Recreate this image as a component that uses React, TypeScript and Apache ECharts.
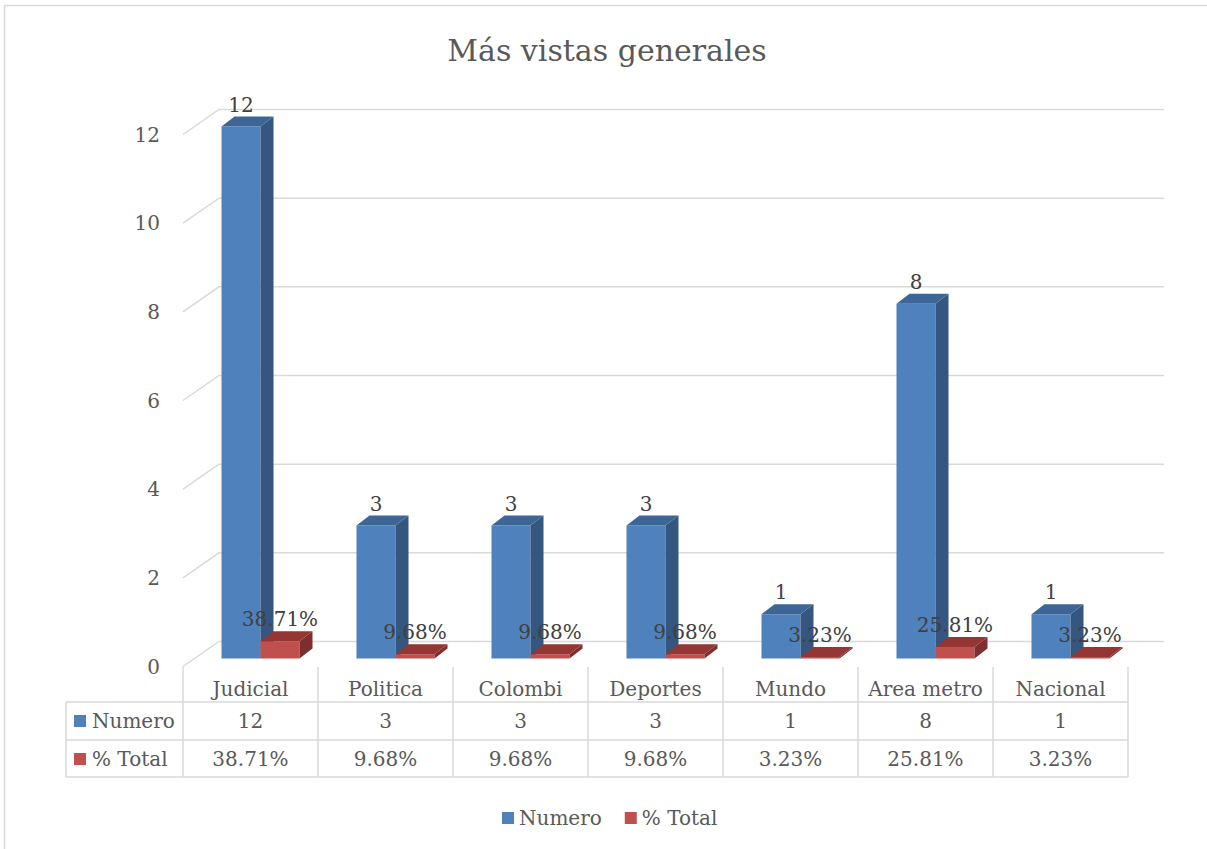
import React, { useEffect, useRef } from "react";
import * as echarts from "echarts";

const categories = ["Judicial", "Politica", "Colombi", "Deportes", "Mundo", "Area metro", "Nacional"];
const numero = [12, 3, 3, 3, 1, 8, 1];
const pctTotal = [38.71, 9.68, 9.68, 9.68, 3.23, 25.81, 3.23];
const yTicks = [0, 2, 4, 6, 8, 10, 12];
const seriesNames = ["Numero", "% Total"];
const titleText = "Más vistas generales";

const FONT = "DejaVu Serif";
const TEXT = "#595959";
const LINE = "#d9d9d9";
const BLUE = { front: "#4f81bd", side: "#34567f", top: "#3d6697" };
const RED = { front: "#c0504d", side: "#7e2e2c", top: "#943634" };

// 3D geometry (pixels)
const WALL_DX = 36, WALL_DY = -25; // front edge -> back wall
const BAR_DX = 10, BAR_DY = -8; // front edge -> bar front plane
const DEPTH_DX = 13, DEPTH_DY = -10; // bar depth
const BAR_FRAC = 0.289;

const fmtPct = (v: number) => v.toFixed(2) + "%";

function box(x: number, yTop: number, yBot: number, w: number, col: any) {
  return [
    { type: "rect", shape: { x, y: yTop, width: w, height: Math.max(yBot - yTop, 0) }, style: { fill: col.front } },
    {
      type: "polygon",
      shape: { points: [[x + w, yTop], [x + w + DEPTH_DX, yTop + DEPTH_DY], [x + w + DEPTH_DX, yBot + DEPTH_DY], [x + w, yBot]] },
      style: { fill: col.side },
    },
    {
      type: "polygon",
      shape: { points: [[x, yTop], [x + DEPTH_DX, yTop + DEPTH_DY], [x + w + DEPTH_DX, yTop + DEPTH_DY], [x + w, yTop]] },
      style: { fill: col.top },
    },
  ];
}

export default function App() {
  const ref = useRef<HTMLDivElement>(null);
  useEffect(() => {
    const chart = echarts.init(ref.current!, null, { renderer: "svg" });
    const barSeries = (name: string, values: number[], col: any, side: number, label: (v: number) => string) => ({
      type: "custom",
      name,
      itemStyle: { color: col.front },
      data: values.map((v, i) => [i, side === 0 ? v : v / 100, v]),
      clip: false,
      z: side === 0 ? 3 : 4,
      renderItem: (params: any, api: any) => {
        const i = api.value(0);
        const v = api.value(1);
        const raw = api.value(2);
        const base = api.coord([i, 0]);
        const top = api.coord([i, v]);
        const band = api.size([1, 0])[0];
        const w = band * BAR_FRAC;
        const cx = base[0] + BAR_DX;
        const x = side === 0 ? cx - w : cx;
        const yBot = base[1] + BAR_DY;
        const yTop = top[1] + BAR_DY;
        return {
          type: "group",
          children: [
            ...box(x, yTop, yBot, w, col),
            {
              type: "text",
              z2: 10,
              style: {
                x: x + w / 2,
                y: yTop - 12,
                text: label(raw),
                fill: "#404040",
                font: `20px "${FONT}"`,
                align: "center",
                verticalAlign: "bottom",
              },
            },
          ],
        };
      },
    });

    const option: any = {
      animation: false,
      grid: { left: 183, top: 134.5, width: 945, height: 532 },
      xAxis: {
        type: "category",
        data: categories,
        axisLine: { show: false },
        axisTick: { show: false },
        axisLabel: { color: TEXT, fontSize: 20, fontFamily: FONT, margin: 12, interval: 0 },
      },
      yAxis: {
        type: "value",
        min: 0,
        max: 12,
        interval: 2,
        axisLine: { show: false },
        axisTick: { show: false },
        splitLine: { show: false },
        axisLabel: { color: TEXT, fontSize: 20, fontFamily: FONT, margin: 23 },
      },
      legend: {
        data: seriesNames,
        left: 497,
        top: 803,
        icon: "rect",
        itemWidth: 12,
        itemHeight: 12,
        itemGap: 23,
        selectedMode: false,
        textStyle: { color: TEXT, fontSize: 20, fontFamily: FONT },
      },
      graphic: [
        {
          type: "rect",
          shape: { x: 4.5, y: 5.5, width: 1230, height: 870 },
          style: { fill: "none", stroke: LINE, lineWidth: 1.5 },
          silent: true,
        },
        {
          type: "text",
          x: 607,
          y: 50,
          style: { text: titleText, fill: TEXT, font: `30px "${FONT}"`, align: "center", verticalAlign: "middle" },
        },
        // table frame
        ...[702, 740, 777].map((y) => ({
          type: "line",
          shape: { x1: 66, y1: y, x2: 1128, y2: y },
          style: { stroke: LINE, lineWidth: 1.5 },
        })),
        { type: "line", shape: { x1: 66, y1: 702, x2: 66, y2: 777 }, style: { stroke: LINE, lineWidth: 1.5 } },
        { type: "rect", shape: { x: 74, y: 715, width: 12, height: 12 }, style: { fill: BLUE.front } },
        {
          type: "text",
          x: 92,
          y: 721,
          style: { text: seriesNames[0], fill: TEXT, font: `20px "${FONT}"`, align: "left", verticalAlign: "middle" },
        },
        { type: "rect", shape: { x: 74, y: 753, width: 12, height: 12 }, style: { fill: RED.front } },
        {
          type: "text",
          x: 92,
          y: 759,
          style: { text: seriesNames[1], fill: TEXT, font: `20px "${FONT}"`, align: "left", verticalAlign: "middle" },
        },
      ],
      series: [
        {
          type: "custom",
          name: "_grid",
          silent: true,
          clip: false,
          z: 1,
          data: yTicks.map((v) => [0, v]),
          renderItem: (params: any, api: any) => {
            const p = api.coord([0, api.value(1)]);
            const cs = params.coordSys;
            return {
              type: "polyline",
              shape: {
                points: [
                  [cs.x, p[1]],
                  [cs.x + WALL_DX, p[1] + WALL_DY],
                  [cs.x + cs.width + WALL_DX, p[1] + WALL_DY],
                ],
              },
              style: { stroke: LINE, lineWidth: 1.5, fill: "none" },
            };
          },
        },
        {
          type: "custom",
          name: "_table",
          silent: true,
          clip: false,
          z: 2,
          data: categories.map((c, i) => [i, numero[i], pctTotal[i]]),
          renderItem: (params: any, api: any) => {
            const i = api.value(0);
            const base = api.coord([i, 0]);
            const band = api.size([1, 0])[0];
            const y0 = base[1];
            const children: any[] = [
              {
                type: "line",
                shape: { x1: base[0] + band / 2, y1: y0 + 0.5, x2: base[0] + band / 2, y2: y0 + 110.5 },
                style: { stroke: LINE, lineWidth: 1.5 },
              },
              {
                type: "text",
                style: {
                  x: base[0],
                  y: y0 + 54.5,
                  text: String(api.value(1)),
                  fill: TEXT,
                  font: `20px "${FONT}"`,
                  align: "center",
                  verticalAlign: "middle",
                },
              },
              {
                type: "text",
                style: {
                  x: base[0],
                  y: y0 + 92.5,
                  text: fmtPct(api.value(2)),
                  fill: TEXT,
                  font: `20px "${FONT}"`,
                  align: "center",
                  verticalAlign: "middle",
                },
              },
            ];
            if (i === 0) {
              children.push({
                type: "line",
                shape: { x1: base[0] - band / 2, y1: y0 + 0.5, x2: base[0] - band / 2, y2: y0 + 110.5 },
                style: { stroke: LINE, lineWidth: 1.5 },
              });
            }
            return { type: "group", children };
          },
        },
        barSeries(seriesNames[0], numero, BLUE, 0, (v) => String(v)),
        barSeries(seriesNames[1], pctTotal, RED, 1, (v) => fmtPct(v)),
      ],
    };
    chart.setOption(option);
    return () => chart.dispose();
  }, []);
  return (
    <div
      ref={ref}
      style={{ position: "absolute", left: 0, top: 0, width: 1207, height: 849, background: "#fff" }}
    />
  );
}
